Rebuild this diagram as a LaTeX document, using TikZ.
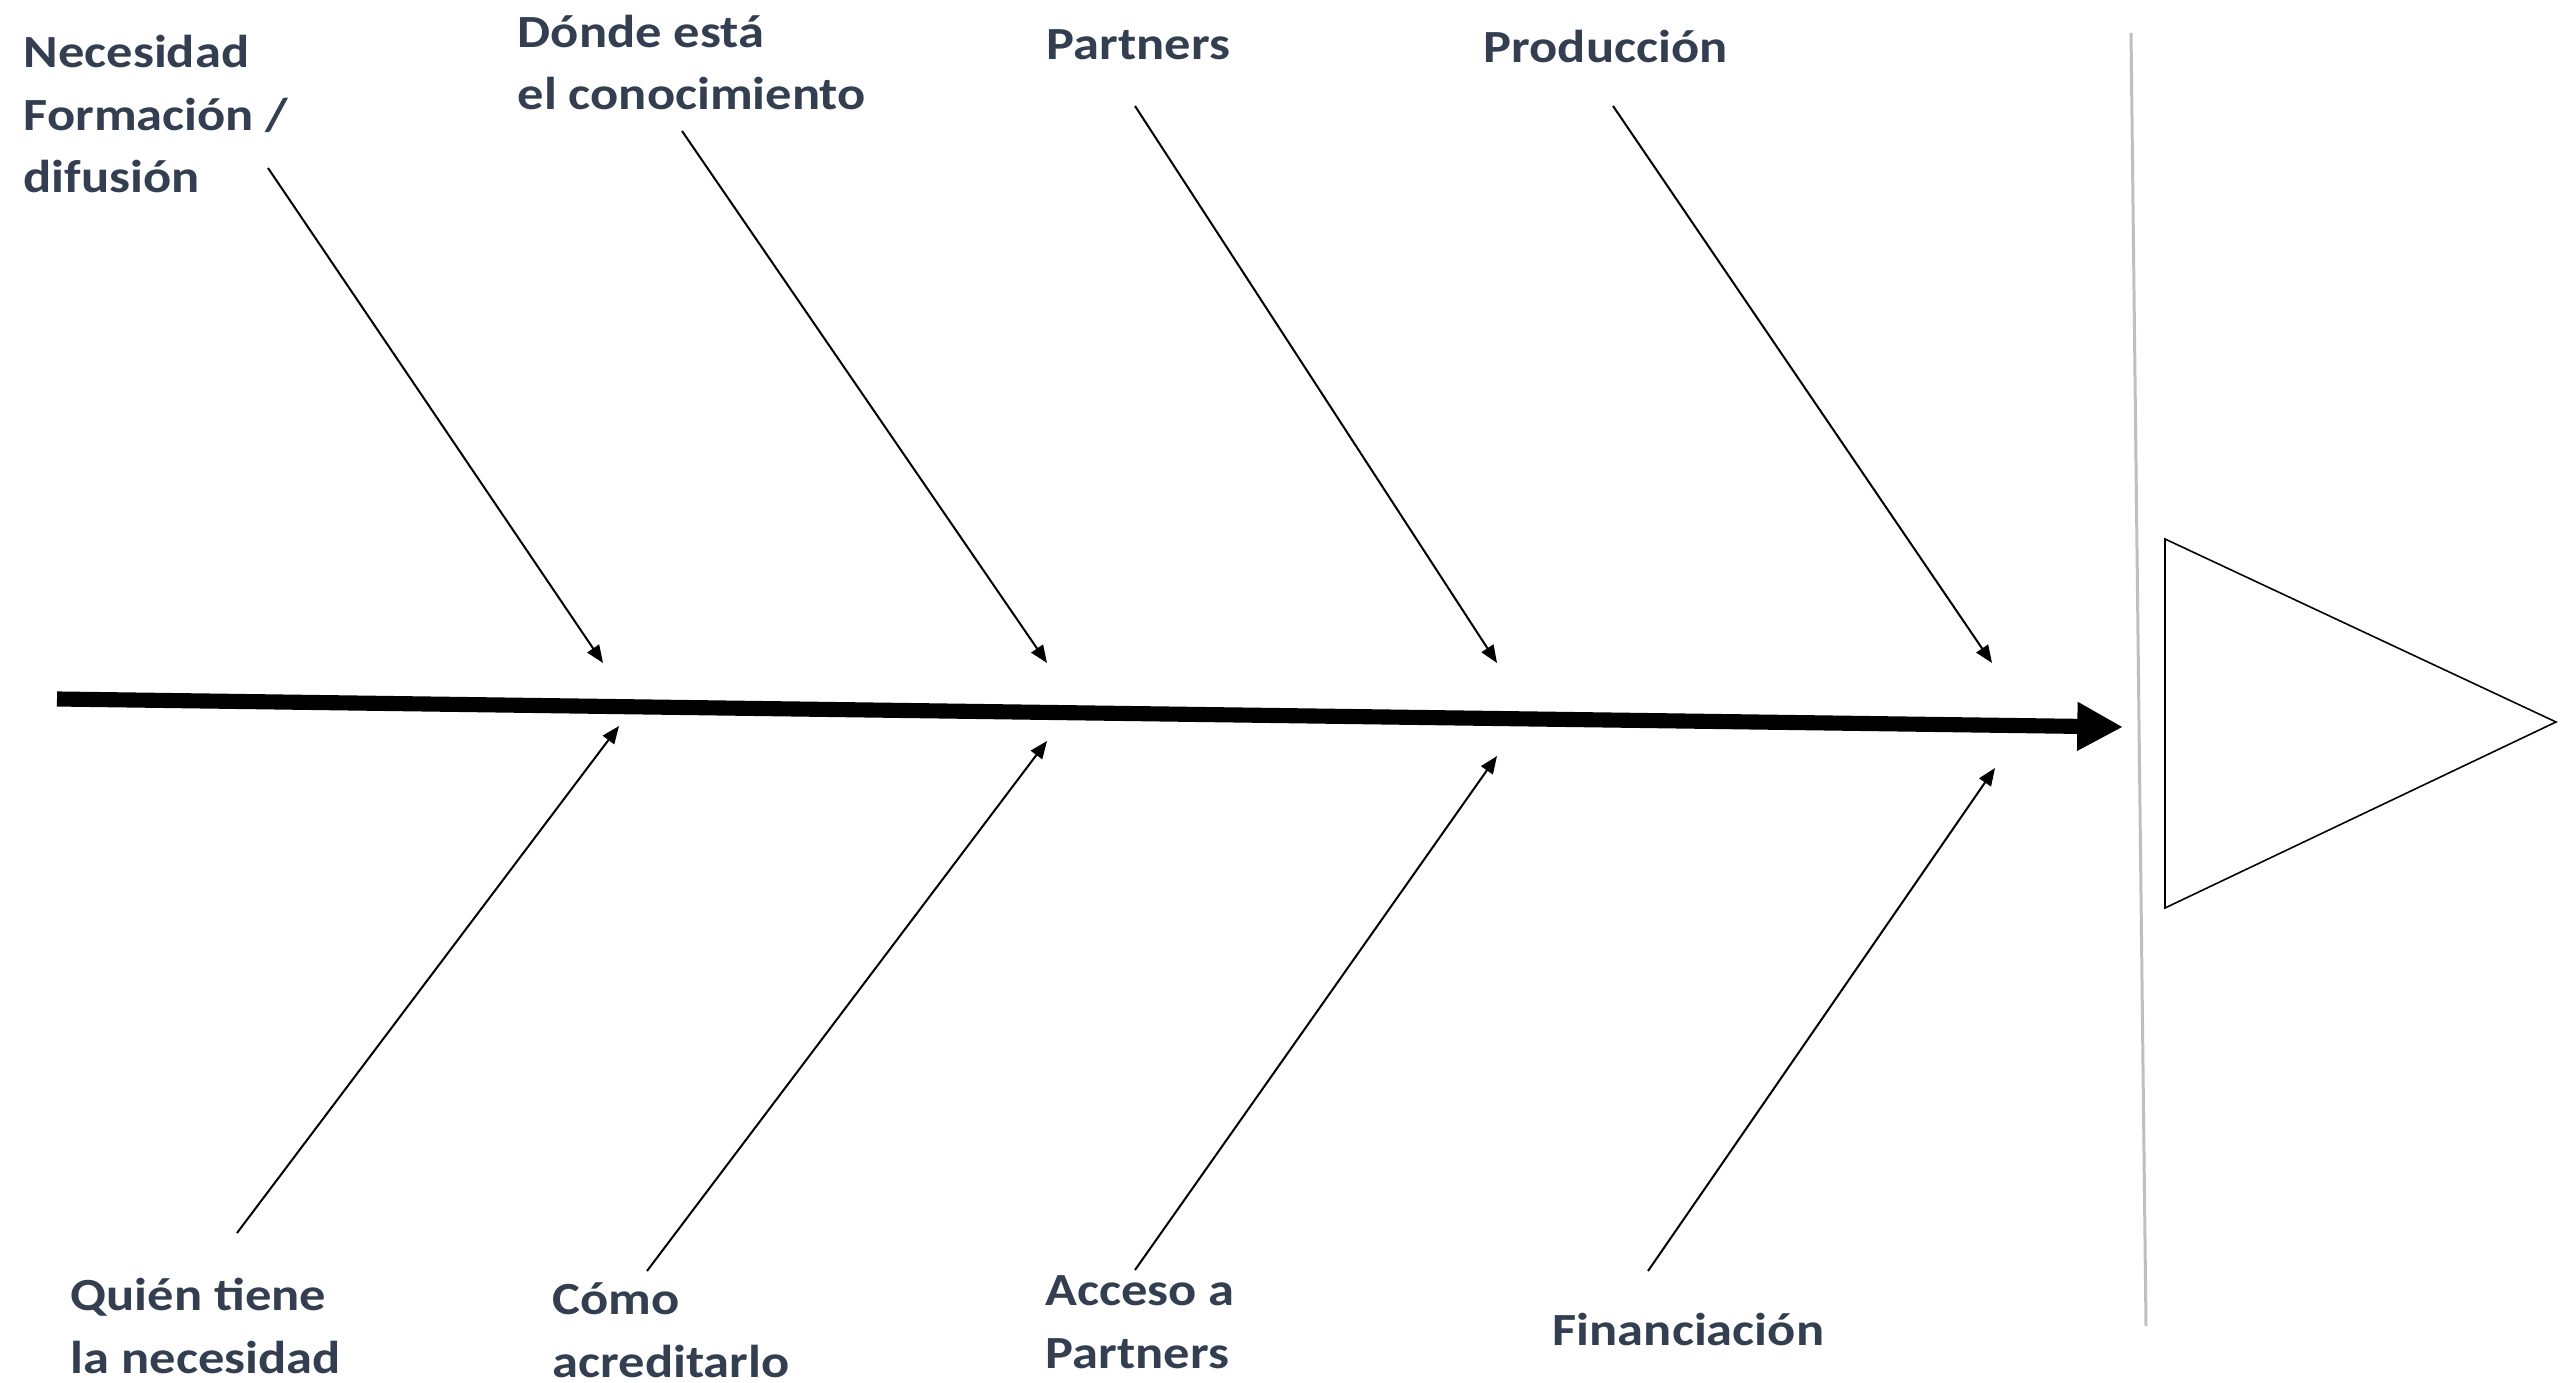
\documentclass[tikz,border=0pt]{standalone}
\usepackage{fontspec}
\setmainfont{Carlito}[FakeStretch=1.14]
\usetikzlibrary{arrows.meta}
\definecolor{labelcol}{HTML}{333F50}
\definecolor{greyline}{HTML}{BFBFBF}
\begin{document}
\begin{tikzpicture}[x=0.01cm,y=-0.01cm,
  lbl/.style={anchor=base west,inner sep=0pt,align=left,text=labelcol,
    font=\fontsize{13.1}{17.9}\selectfont\bfseries},
  bone/.style={line width=0.57pt,-{Triangle[length=5pt,width=4pt]}},
  spine/.style={line width=4.3pt,-{Triangle[length=13pt,width=13pt]}}]
\useasboundingbox[fill=white] (0,0) rectangle (2560,1383);
% labels (anchored at the baseline of the last line)
\node[lbl] (l1) at (23,193) {Necesidad\\Formación /\\difusión};
\node[lbl] (l2) at (517,110) {Dónde está\\el conocimiento};
\node[lbl] (l3) at (1046,60) {Partners};
\node[lbl] (l4) at (1483,63) {Producción};
\node[lbl] (b1) at (70,1373) {Quién tiene\\la necesidad};
\node[lbl] (b2) at (552,1377) {Cómo\\acreditarlo};
\node[lbl] (b3) at (1045,1368) {Acceso a\\Partners};
\node[lbl] (b4) at (1552,1345) {Financiación};
% bone ends
\coordinate (u1s) at (268,168);  \coordinate (u1e) at (603,663);
\coordinate (u2s) at (682,131);  \coordinate (u2e) at (1047,663);
\coordinate (u3s) at (1135,106); \coordinate (u3e) at (1497,663);
\coordinate (u4s) at (1613,106); \coordinate (u4e) at (1992,663);
\coordinate (d1s) at (237,1233); \coordinate (d1e) at (619,726);
\coordinate (d2s) at (647,1271); \coordinate (d2e) at (1047,741);
\coordinate (d3s) at (1135,1270);\coordinate (d3e) at (1497,756);
\coordinate (d4s) at (1648,1271);\coordinate (d4e) at (1995,768);
\coordinate (sps) at (57,699);   \coordinate (spe) at (2123,727);
\coordinate (gt) at (2131,33);   \coordinate (gb) at (2146,1326);
\coordinate (ta) at (2165,539);  \coordinate (tb) at (2165,908);
\coordinate (tc) at (2556,722);
% bones
\foreach \a/\b in {u1s/u1e,u2s/u2e,u3s/u3e,u4s/u4e,d1s/d1e,d2s/d2e,d3s/d3e,d4s/d4e}
  \draw[bone] (\a) -- (\b);
% spine
\draw[spine] (sps) -- (spe);
% grey divider
\draw[greyline,line width=0.85pt] (gt) -- (gb);
% head triangle
\draw[line width=0.45pt,line join=miter] (ta) -- (tc) -- (tb) -- cycle;
\end{tikzpicture}
\end{document}
